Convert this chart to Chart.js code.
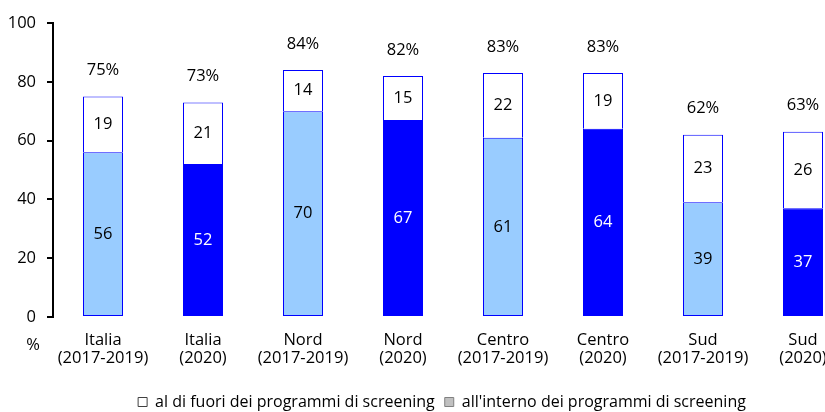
<!DOCTYPE html>
<html>
<head>
<meta charset="utf-8">
<script src="https://cdn.jsdelivr.net/npm/chart.js@4.4.1/dist/chart.umd.min.js"></script>
<style>
  html, body { margin: 0; padding: 0; background: #fff; overflow: hidden; }
  #wrap { position: relative; width: 884px; height: 420px; }
</style>
</head>
<body>
<div id="wrap"><canvas id="c"></canvas></div>
<script>
const categories = [
  ["Italia", "(2017-2019)"], ["Italia", "(2020)"],
  ["Nord", "(2017-2019)"], ["Nord", "(2020)"],
  ["Centro", "(2017-2019)"], ["Centro", "(2020)"],
  ["Sud", "(2017-2019)"], ["Sud", "(2020)"]
];
const insideValues = [56, 52, 70, 67, 61, 64, 39, 37];
const outsideValues = [19, 21, 14, 15, 22, 19, 23, 26];
const totalLabels = ["75%", "73%", "84%", "82%", "83%", "83%", "62%", "63%"];
const yTicks = [0, 20, 40, 60, 80, 100];
const legendOutside = "al di fuori dei programmi di screening";
const legendInside = "all'interno dei programmi di screening";
const yUnit = "%";

const LIGHT = "#99CCFF", DARK = "#0000FF";
const insideColors = categories.map((c, i) => i % 2 === 0 ? LIGHT : DARK);
const insideTextColors = categories.map((c, i) => i % 2 === 0 ? "#000" : "#fff");
const FONT = "'Open Sans', 'Noto Sans', sans-serif";
const FS = 16.5;

const labelPlugin = {
  id: "labels",
  afterLayout(chart) {
    // center the legend on the full canvas width
    if (chart.legend) {
      chart.legend.right = chart.width;
      chart.legend.width = chart.legend.right - chart.legend.left;
    }
  },
  afterDatasetsDraw(chart) {
    const ctx = chart.ctx;
    ctx.save();
    ctx.font = FS + "px " + FONT;
    ctx.textAlign = "center";
    ctx.textBaseline = "middle";
    const m0 = chart.getDatasetMeta(0), m1 = chart.getDatasetMeta(1);
    m0.data.forEach((el, i) => {
      ctx.fillStyle = insideTextColors[i];
      ctx.fillText(String(insideValues[i]), el.x, (el.y + el.base) / 2);
    });
    m1.data.forEach((el, i) => {
      ctx.fillStyle = "#000";
      ctx.fillText(String(outsideValues[i]), el.x, (el.y + el.base) / 2);
      ctx.fillText(totalLabels[i], el.x, el.y - 26);
    });
    ctx.fillStyle = "#000";
    ctx.fillText(yUnit, chart.chartArea.left - 20, chart.chartArea.bottom + 28);
    ctx.restore();
  }
};

new Chart(document.getElementById("c"), {
  type: "bar",
  data: {
    labels: categories,
    datasets: [
      {
        label: legendInside,
        data: insideValues,
        backgroundColor: insideColors,
        borderColor: DARK,
        borderWidth: 1,
        borderSkipped: false
      },
      {
        label: legendOutside,
        data: outsideValues,
        backgroundColor: "#FFFFFF",
        borderColor: DARK,
        borderWidth: 1,
        borderSkipped: "bottom"
      }
    ]
  },
  options: {
    responsive: true,
    maintainAspectRatio: false,
    animation: false,
    layout: { padding: { top: 23, right: 31, left: 0, bottom: 0 } },
    datasets: { bar: { categoryPercentage: 1, barPercentage: 0.40 } },
    scales: {
      x: {
        stacked: true,
        grid: { display: false, drawTicks: false },
        border: { display: false },
        ticks: { color: "#000", font: { family: FONT, size: FS, lineHeight: 1.1 }, padding: 14, maxRotation: 0, autoSkip: false },
        afterFit(s) { s.height = 67; }
      },
      y: {
        stacked: true,
        min: 0, max: 100,
        afterBuildTicks(s) { s.ticks = yTicks.map(v => ({ value: v })); },
        grid: { drawOnChartArea: false, drawTicks: true, tickLength: 6, color: "#000", lineWidth: 2 },
        border: { display: true, color: "#000", width: 2 },
        ticks: { color: "#000", font: { family: FONT, size: FS }, padding: 11 },
        afterFit(s) { s.width = 53; }
      }
    },
    plugins: {
      tooltip: { enabled: false },
      legend: {
        position: "bottom",
        reverse: true,
        labels: {
          color: "#000",
          font: { family: FONT, size: 16 },
          boxWidth: 9,
          boxHeight: 9,
          padding: 10,
          generateLabels(chart) {
            return [
              { text: legendInside, fillStyle: "#C0C0C0", strokeStyle: "#808080", lineWidth: 1, datasetIndex: 0, fontColor: "#000" },
              { text: legendOutside, fillStyle: "#FFFFFF", strokeStyle: "#404040", lineWidth: 1, datasetIndex: 1, fontColor: "#000" }
            ];
          }
        }
      }
    }
  },
  plugins: [labelPlugin]
});
</script>
</body>
</html>
